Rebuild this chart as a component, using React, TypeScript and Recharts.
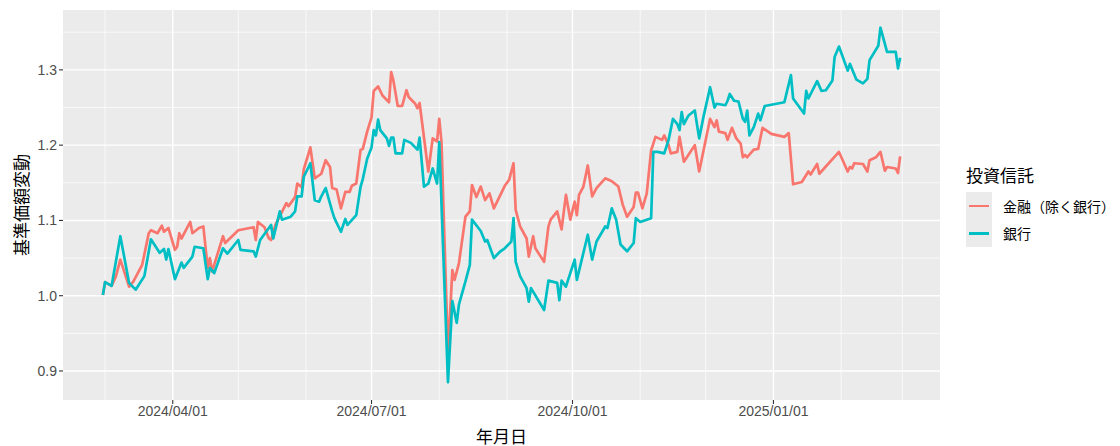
import React from 'react';
import { LineChart, Line, XAxis, YAxis, CartesianGrid, Legend } from 'recharts';

// 金融（除く銀行）
const KINYU_DATES = [
  '2024-02-29', '2024-03-01', '2024-03-04', '2024-03-06', '2024-03-08', '2024-03-12', '2024-03-14', '2024-03-18',
  '2024-03-21', '2024-03-22', '2024-03-25', '2024-03-27', '2024-03-28', '2024-03-30', '2024-04-02', '2024-04-03',
  '2024-04-04', '2024-04-05', '2024-04-09', '2024-04-10', '2024-04-13', '2024-04-15', '2024-04-17', '2024-04-18',
  '2024-04-19', '2024-04-24', '2024-04-25', '2024-05-01', '2024-05-08', '2024-05-09', '2024-05-10', '2024-05-13',
  '2024-05-15', '2024-05-16', '2024-05-18', '2024-05-23', '2024-05-24', '2024-05-27', '2024-05-28', '2024-05-30',
  '2024-05-31', '2024-06-03', '2024-06-05', '2024-06-08', '2024-06-10', '2024-06-12', '2024-06-13', '2024-06-15',
  '2024-06-17', '2024-06-19', '2024-06-21', '2024-06-22', '2024-06-24', '2024-06-26', '2024-06-27', '2024-06-29',
  '2024-07-01', '2024-07-02', '2024-07-04', '2024-07-06', '2024-07-09', '2024-07-10', '2024-07-11', '2024-07-13',
  '2024-07-15', '2024-07-17', '2024-07-18', '2024-07-21', '2024-07-22', '2024-07-23', '2024-07-27', '2024-07-29',
  '2024-07-31', '2024-08-01', '2024-08-02', '2024-08-05', '2024-08-07', '2024-08-08', '2024-08-10', '2024-08-13',
  '2024-08-15', '2024-08-16', '2024-08-18', '2024-08-20', '2024-08-22', '2024-08-24', '2024-08-26', '2024-08-31',
  '2024-09-02', '2024-09-04', '2024-09-05', '2024-09-07', '2024-09-10', '2024-09-11', '2024-09-13', '2024-09-14',
  '2024-09-18', '2024-09-20', '2024-09-21', '2024-09-24', '2024-09-26', '2024-09-28', '2024-09-30', '2024-10-02',
  '2024-10-03', '2024-10-04', '2024-10-06', '2024-10-08', '2024-10-10', '2024-10-12', '2024-10-16', '2024-10-19',
  '2024-10-22', '2024-10-24', '2024-10-26', '2024-10-29', '2024-10-30', '2024-10-31', '2024-11-02', '2024-11-04',
  '2024-11-06', '2024-11-08', '2024-11-11', '2024-11-12', '2024-11-14', '2024-11-15', '2024-11-18', '2024-11-19',
  '2024-11-21', '2024-11-26', '2024-11-28', '2024-12-03', '2024-12-05', '2024-12-06', '2024-12-07', '2024-12-10',
  '2024-12-11', '2024-12-13', '2024-12-15', '2024-12-17', '2024-12-18', '2024-12-19', '2024-12-20', '2024-12-23',
  '2024-12-25', '2024-12-27', '2024-12-31', '2025-01-06', '2025-01-08', '2025-01-10', '2025-01-14', '2025-01-17',
  '2025-01-18', '2025-01-21', '2025-01-22', '2025-01-31', '2025-02-04', '2025-02-05', '2025-02-06', '2025-02-07',
  '2025-02-11', '2025-02-13', '2025-02-14', '2025-02-17', '2025-02-19', '2025-02-21', '2025-02-22', '2025-02-26',
  '2025-02-27', '2025-02-28',
];
const KINYU_VALUES = [
  1.001, 1.018, 1.013, 1.026, 1.048, 1.012, 1.019, 1.041,
  1.083, 1.087, 1.083, 1.093, 1.085, 1.090, 1.061, 1.065,
  1.083, 1.076, 1.098, 1.083, 1.090, 1.092, 1.037, 1.050,
  1.032, 1.079, 1.070, 1.087, 1.091, 1.074, 1.098, 1.091,
  1.076, 1.074, 1.094, 1.123, 1.119, 1.131, 1.149, 1.144,
  1.168, 1.197, 1.156, 1.162, 1.180, 1.171, 1.143, 1.141,
  1.116, 1.138, 1.138, 1.146, 1.149, 1.194, 1.195, 1.218,
  1.237, 1.272, 1.278, 1.266, 1.257, 1.297, 1.286, 1.252,
  1.252, 1.273, 1.264, 1.255, 1.249, 1.256, 1.165, 1.209,
  1.205, 1.235, 1.205, 0.924, 1.034, 1.021, 1.043, 1.105,
  1.112, 1.147, 1.131, 1.145, 1.127, 1.136, 1.116, 1.146,
  1.154, 1.176, 1.114, 1.092, 1.076, 1.052, 1.079, 1.063,
  1.045, 1.092, 1.101, 1.112, 1.088, 1.134, 1.101, 1.125,
  1.107, 1.134, 1.145, 1.173, 1.132, 1.143, 1.156, 1.152,
  1.145, 1.121, 1.105, 1.118, 1.137, 1.137, 1.116, 1.136,
  1.193, 1.211, 1.207, 1.213, 1.200, 1.189, 1.191, 1.211,
  1.178, 1.200, 1.165, 1.235, 1.224, 1.233, 1.218, 1.216,
  1.207, 1.223, 1.209, 1.202, 1.184, 1.187, 1.184, 1.194,
  1.195, 1.223, 1.215, 1.211, 1.216, 1.148, 1.151, 1.165,
  1.161, 1.175, 1.162, 1.191, 1.165, 1.171, 1.169, 1.176,
  1.175, 1.165, 1.180, 1.184, 1.191, 1.166, 1.171, 1.169,
  1.163, 1.185,
];

// 銀行
const GINKO_DATES = [
  '2024-02-29', '2024-03-01', '2024-03-04', '2024-03-08', '2024-03-12', '2024-03-15', '2024-03-19', '2024-03-22',
  '2024-03-26', '2024-03-28', '2024-03-29', '2024-03-30', '2024-04-02', '2024-04-05', '2024-04-06', '2024-04-10',
  '2024-04-11', '2024-04-15', '2024-04-17', '2024-04-18', '2024-04-20', '2024-04-24', '2024-04-26', '2024-05-01',
  '2024-05-02', '2024-05-08', '2024-05-09', '2024-05-11', '2024-05-16', '2024-05-17', '2024-05-20', '2024-05-21',
  '2024-05-25', '2024-05-27', '2024-05-28', '2024-05-30', '2024-05-31', '2024-06-03', '2024-06-05', '2024-06-07',
  '2024-06-08', '2024-06-10', '2024-06-13', '2024-06-14', '2024-06-17', '2024-06-19', '2024-06-20', '2024-06-24',
  '2024-06-26', '2024-06-27', '2024-06-29', '2024-07-01', '2024-07-02', '2024-07-03', '2024-07-04', '2024-07-05',
  '2024-07-08', '2024-07-09', '2024-07-10', '2024-07-11', '2024-07-12', '2024-07-15', '2024-07-16', '2024-07-19',
  '2024-07-22', '2024-07-23', '2024-07-25', '2024-07-27', '2024-07-29', '2024-07-31', '2024-08-01', '2024-08-05',
  '2024-08-07', '2024-08-09', '2024-08-10', '2024-08-13', '2024-08-15', '2024-08-16', '2024-08-20', '2024-08-22',
  '2024-08-23', '2024-08-26', '2024-08-29', '2024-08-31', '2024-09-03', '2024-09-04', '2024-09-05', '2024-09-07',
  '2024-09-10', '2024-09-11', '2024-09-12', '2024-09-18', '2024-09-20', '2024-09-24', '2024-09-25', '2024-09-26',
  '2024-09-28', '2024-09-30', '2024-10-02', '2024-10-03', '2024-10-08', '2024-10-10', '2024-10-12', '2024-10-16',
  '2024-10-17', '2024-10-19', '2024-10-21', '2024-10-23', '2024-10-26', '2024-10-29', '2024-10-30', '2024-11-01',
  '2024-11-06', '2024-11-07', '2024-11-09', '2024-11-12', '2024-11-14', '2024-11-16', '2024-11-18', '2024-11-19',
  '2024-11-20', '2024-11-21', '2024-11-23', '2024-11-26', '2024-11-28', '2024-11-30', '2024-12-03', '2024-12-05',
  '2024-12-06', '2024-12-10', '2024-12-11', '2024-12-12', '2024-12-14', '2024-12-16', '2024-12-18', '2024-12-19',
  '2024-12-20', '2024-12-21', '2024-12-23', '2024-12-25', '2024-12-26', '2024-12-28', '2025-01-06', '2025-01-09',
  '2025-01-10', '2025-01-15', '2025-01-16', '2025-01-17', '2025-01-21', '2025-01-23', '2025-01-25', '2025-01-28',
  '2025-01-29', '2025-01-31', '2025-02-04', '2025-02-05', '2025-02-08', '2025-02-11', '2025-02-13', '2025-02-14',
  '2025-02-18', '2025-02-19', '2025-02-22', '2025-02-26', '2025-02-27', '2025-02-28',
];
const GINKO_VALUES = [
  1.001, 1.018, 1.013, 1.079, 1.017, 1.008, 1.026, 1.075,
  1.057, 1.062, 1.048, 1.062, 1.022, 1.044, 1.037, 1.052,
  1.065, 1.063, 1.022, 1.037, 1.030, 1.063, 1.056, 1.074,
  1.061, 1.059, 1.052, 1.074, 1.094, 1.076, 1.112, 1.101,
  1.105, 1.112, 1.132, 1.132, 1.158, 1.176, 1.127, 1.125,
  1.132, 1.143, 1.112, 1.103, 1.085, 1.102, 1.094, 1.107,
  1.145, 1.155, 1.182, 1.197, 1.220, 1.213, 1.234, 1.220,
  1.209, 1.199, 1.210, 1.210, 1.189, 1.189, 1.207, 1.203,
  1.194, 1.210, 1.145, 1.149, 1.169, 1.149, 1.204, 0.885,
  0.993, 0.964, 0.988, 1.019, 1.041, 1.101, 1.086, 1.072,
  1.074, 1.050, 1.059, 1.063, 1.072, 1.103, 1.045, 1.026,
  1.010, 0.992, 1.010, 0.981, 1.020, 1.017, 0.994, 1.020,
  1.012, 1.030, 1.048, 1.021, 1.081, 1.048, 1.072, 1.092,
  1.090, 1.116, 1.101, 1.068, 1.059, 1.070, 1.103, 1.098,
  1.103, 1.191, 1.191, 1.189, 1.207, 1.235, 1.228, 1.220,
  1.244, 1.228, 1.239, 1.246, 1.209, 1.238, 1.277, 1.250,
  1.255, 1.253, 1.259, 1.268, 1.259, 1.258, 1.235, 1.231,
  1.246, 1.213, 1.224, 1.242, 1.233, 1.252, 1.257, 1.293,
  1.262, 1.242, 1.272, 1.262, 1.285, 1.272, 1.273, 1.286,
  1.317, 1.331, 1.299, 1.308, 1.287, 1.282, 1.288, 1.313,
  1.332, 1.356, 1.324, 1.324, 1.302, 1.316,
];

const X_TICKS = ['2024-04-01', '2024-07-01', '2024-10-01', '2025-01-01'];
const X_MINOR = [
  '2024-03-01', '2024-05-01', '2024-06-01', '2024-08-01', '2024-09-01',
  '2024-11-01', '2024-12-01', '2025-02-01', '2025-03-01',
];
const Y_TICKS = [0.9, 1.0, 1.1, 1.2, 1.3];
const Y_MINOR = [0.95, 1.05, 1.15, 1.25, 1.35];

const SERIES = [
  { name: '金融（除く銀行）', color: '#F8766D', dates: KINYU_DATES, values: KINYU_VALUES },
  { name: '銀行', color: '#00BFC4', dates: GINKO_DATES, values: GINKO_VALUES },
];

const LATIN = '"Liberation Sans", Arial, sans-serif';
const CJK = '"Noto Sans CJK JP", "Noto Sans", sans-serif';

const toTime = (s: string) => Date.parse(s);
const pad2 = (n: number) => String(n).padStart(2, '0');
const fmtDate = (t: number) => {
  const d = new Date(t);
  return `${d.getUTCFullYear()}/${pad2(d.getUTCMonth() + 1)}/${pad2(d.getUTCDate())}`;
};

const lines = SERIES.map((s) => ({
  ...s,
  rows: s.dates.map((d, i) => ({ t: toTime(d), v: s.values[i] })),
}));

// ggplot-style 5% expansion on both axes
const allT = lines.flatMap((l) => l.rows.map((r) => r.t));
const allV = lines.flatMap((l) => l.rows.map((r) => r.v));
const tMin = Math.min(...allT);
const tMax = Math.max(...allT);
const vMin = Math.min(...allV);
const vMax = Math.max(...allV);
const xDomain = [tMin - (tMax - tMin) * 0.05, tMax + (tMax - tMin) * 0.05];
const yDomain = [vMin - (vMax - vMin) * 0.05, vMax + (vMax - vMin) * 0.05];

const xTickT = X_TICKS.map(toTime);
const xMinorT = X_MINOR.map(toTime);

const XTitle = (props: any) => {
  const { x, width } = props.viewBox;
  return (
    <text x={x + width / 2} y={435} textAnchor="middle" dominantBaseline="central"
      fontSize={17} fontFamily={CJK} fill="#000">
      年月日
    </text>
  );
};

const YTitle = (props: any) => {
  const { y, height } = props.viewBox;
  const cx = 20;
  const cy = y + height / 2;
  return (
    <text x={cx} y={cy} textAnchor="middle" dominantBaseline="central"
      transform={`rotate(-90 ${cx} ${cy})`} fontSize={17} fontFamily={CJK} fill="#000">
      基準価額変動
    </text>
  );
};

const LegendBox = () => (
  <div style={{ fontFamily: CJK, color: '#000' }}>
    <div style={{ fontSize: 17, lineHeight: '22px', marginBottom: 6 }}>投資信託</div>
    {SERIES.map((s) => (
      <div key={s.name} style={{ display: 'flex', alignItems: 'center', height: 27.5 }}>
        <div style={{ width: 26, height: 27.5, background: '#EBEBEB', position: 'relative' }}>
          <div style={{ position: 'absolute', left: 3, right: 3, top: 12.5, height: 2.6, background: s.color }} />
        </div>
        <span style={{ marginLeft: 11, fontSize: 14, whiteSpace: 'nowrap' }}>{s.name}</span>
      </div>
    ))}
  </div>
);

export default function App() {
  return (
    <div style={{ position: 'absolute', left: 0, top: 0, width: 1120, height: 446, background: '#fff' }}>
      <LineChart width={1120} height={446} margin={{ top: 10, right: 180, bottom: 0, left: 0 }}>
        <CartesianGrid fill="#EBEBEB" stroke="#FFFFFF" strokeWidth={0.7}
          horizontalValues={Y_MINOR} verticalValues={xMinorT} />
        <CartesianGrid stroke="#FFFFFF" strokeWidth={1.4}
          horizontalValues={Y_TICKS} verticalValues={xTickT} />
        <XAxis
          type="number"
          dataKey="t"
          domain={xDomain}
          ticks={xTickT}
          interval={0}
          tickFormatter={fmtDate}
          axisLine={false}
          tickLine={{ stroke: '#333333', strokeWidth: 1.1 }}
          tickSize={4}
          tickMargin={2}
          tick={{ fill: '#4D4D4D', fontSize: 14, fontFamily: LATIN }}
          height={46}
          allowDataOverflow
          label={XTitle}
        />
        <YAxis
          type="number"
          domain={yDomain}
          ticks={Y_TICKS}
          interval={0}
          tickFormatter={(v: number) => v.toFixed(1)}
          axisLine={false}
          tickLine={{ stroke: '#333333', strokeWidth: 1.1 }}
          tickSize={4}
          tickMargin={2}
          tick={{ fill: '#4D4D4D', fontSize: 14, fontFamily: LATIN }}
          width={63}
          allowDataOverflow
          label={YTitle}
        />
        {lines.map((l) => (
          <Line
            key={l.name}
            data={l.rows}
            dataKey="v"
            name={l.name}
            type="linear"
            stroke={l.color}
            strokeWidth={2.7}
            strokeLinejoin="round"
            dot={false}
            activeDot={false}
            isAnimationActive={false}
          />
        ))}
        <Legend
          layout="vertical"
          align="center"
          verticalAlign="middle"
          content={LegendBox}
          wrapperStyle={{ left: 966, top: 164, width: 150 }}
        />
      </LineChart>
    </div>
  );
}
